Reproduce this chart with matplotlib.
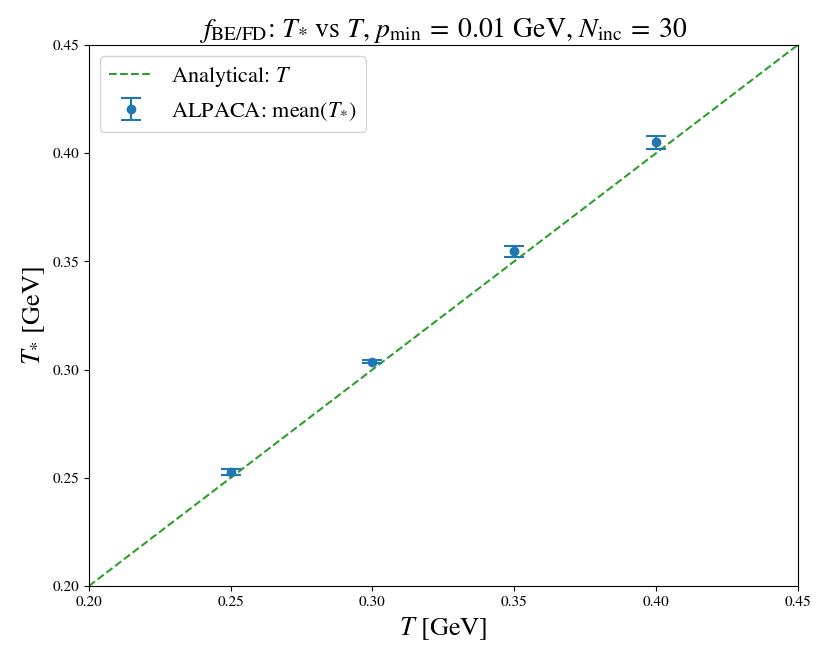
import numpy as np
import matplotlib as mpl
import matplotlib.pyplot as plt

# Ensemble means of the fitted temperature vs input temperature
T_in = [0.25, 0.30, 0.35, 0.40]
T_star_mean = [0.2527, 0.3037, 0.3548, 0.4050]
T_star_err = [0.0014, 0.0008, 0.0025, 0.0030]

T_line = [0.20, 0.45]
ticks = [0.20, 0.25, 0.30, 0.35, 0.40, 0.45]

mpl.rcParams.update({
    "font.family": ["STIXGeneral", "DejaVu Serif"],
    "mathtext.fontset": "stix",
})

fig = plt.figure(figsize=(8.3, 6.63), dpi=100)
ax = fig.add_axes([0.107, 0.116, 0.854, 0.816])

ax.plot(T_line, T_line, "--", color="tab:green", lw=1.5, label=r"Analytical: $T$")
ax.errorbar(T_in, T_star_mean, yerr=T_star_err, fmt="o", color="tab:blue",
            markersize=6, capsize=7, elinewidth=1.5, capthick=1.5,
            label=r"ALPACA: mean($T_{*}$)")

ax.set_xlim(0.20, 0.45)
ax.set_ylim(0.20, 0.45)
ax.set_xticks(ticks)
ax.set_yticks(ticks)
ax.set_xticklabels([f"{t:.2f}" for t in ticks], fontsize=11)
ax.set_yticklabels([f"{t:.2f}" for t in ticks], fontsize=11)

ax.set_xlabel(r"$T$ [GeV]", fontsize=19)
ax.set_ylabel(r"$T_{*}$ [GeV]", fontsize=19)
ax.set_title(r"$f_{\mathrm{BE/FD}}$: $T_{*}$ vs $T$, $p_{\mathrm{min}}\:=\:0.01$ GeV, "
             r"$N_{\mathrm{inc}}\:=\:30$", fontsize=20)
ax.legend(loc="upper left", fontsize=16)

fig.savefig("out.png", dpi=100)
